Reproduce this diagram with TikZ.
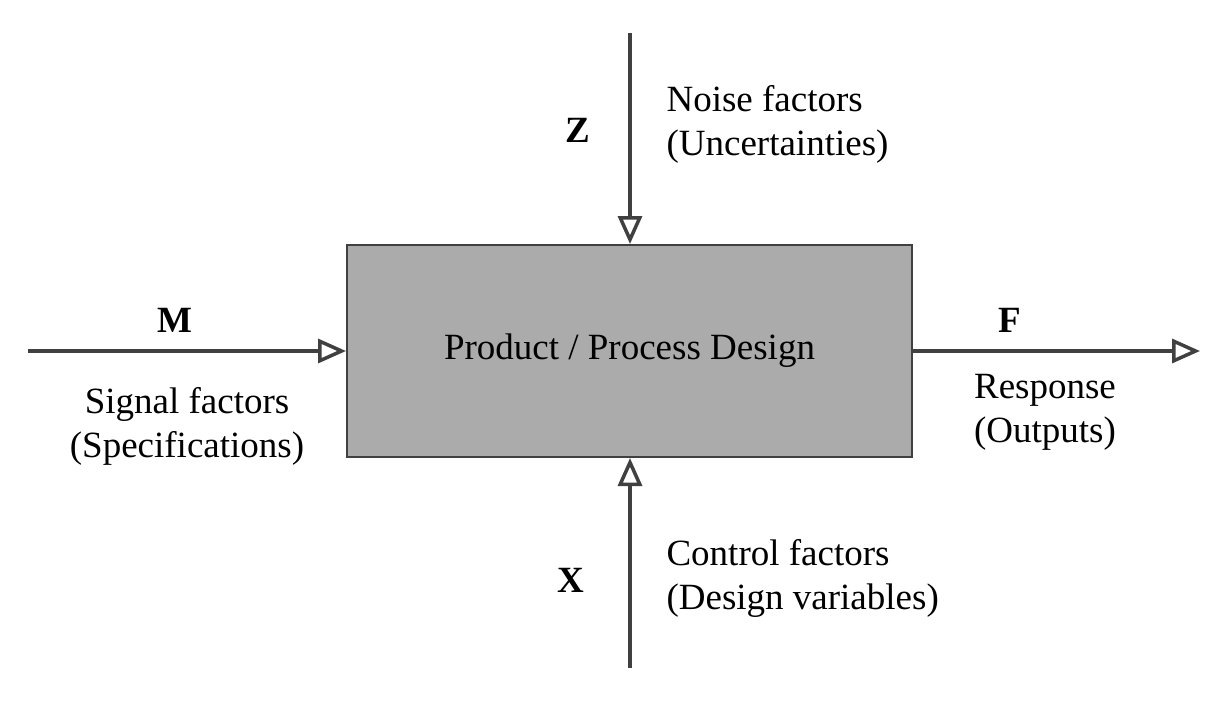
\documentclass[tikz,border=0pt]{standalone}
\usepackage{fontspec}
\setmainfont{Liberation Serif}
\usetikzlibrary{arrows.meta}
\definecolor{ln}{HTML}{404040}
\begin{document}
\begin{tikzpicture}[x=1pt,y=-1pt,
  arr/.style={draw=ln,line width=4.5pt,-{Triangle[fill=white,length=28pt,width=24pt,line width=3.5pt]}},
  lab/.style={font=\fontsize{37}{44}\selectfont,align=left,anchor=west},
  big/.style={font=\fontsize{37}{44}\selectfont\bfseries}]
\useasboundingbox (0,0) rectangle (1229,707);
\node (box) [draw=ln,line width=2pt,fill=black!33,minimum width=565pt,minimum height=212pt] at (629.5,351) {};
\node[font=\fontsize{37}{44}\selectfont] (t) at (629.5,351) {Product / Process Design};
\coordinate (zt) at (630,33);
\coordinate (xb) at (630,668);
\coordinate (ml) at (28,351);
\coordinate (fr) at (1200,351);
\draw[arr] (zt) -- (box.north -| zt);
\draw[arr] (xb) -- (box.south -| xb);
\draw[arr] (ml) -- (box.west);
\draw[arr] (box.east) -- (fr);
\node[big] (z) at (578,130) {Z};
\node[big] (m) at (175,320) {M};
\node[big] (f) at (1010,320) {F};
\node[big] (x) at (571,580) {X};
\node[lab] (n) at (663,124) {Noise factors\\(Uncertainties)};
\node[lab] (c) at (663,578) {Control factors\\(Design variables)};
\node[font=\fontsize{37}{44}\selectfont,align=center] (s) at (187,426) {Signal factors\\(Specifications)};
\node[font=\fontsize{37}{44}\selectfont,align=center] (r) at (1045,412) {Response\\(Outputs)};
\end{tikzpicture}
\end{document}
